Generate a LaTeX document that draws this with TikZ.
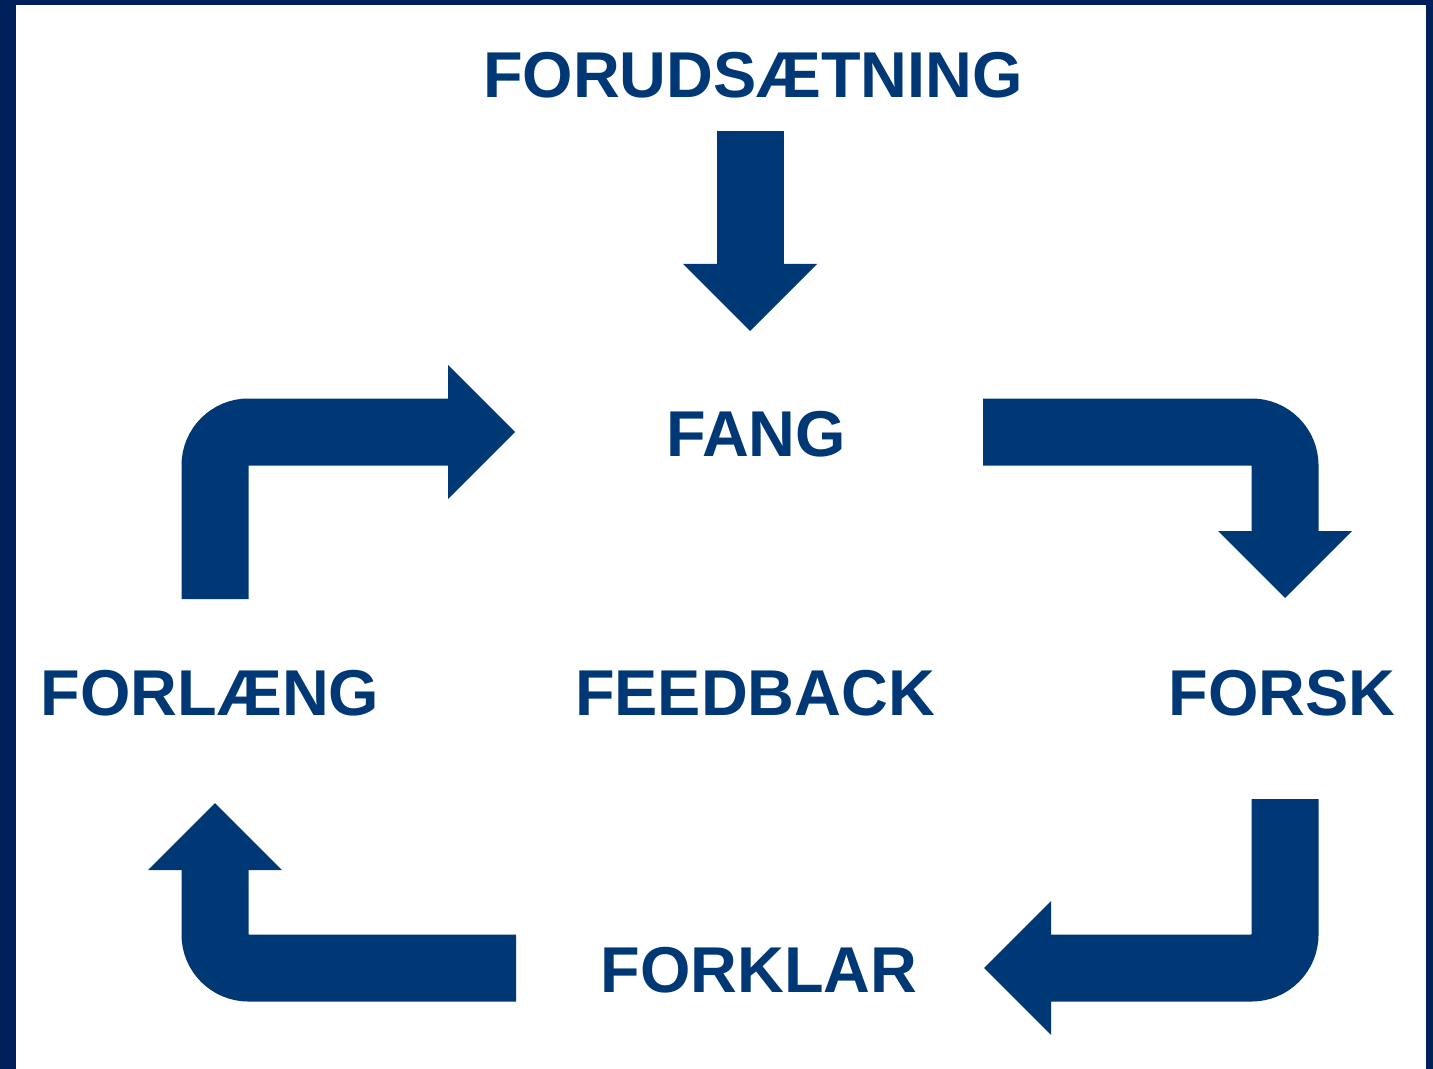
\documentclass[tikz,border=0pt]{standalone}
\usepackage{fontspec}
\setmainfont{Liberation Sans}
\usepackage{tikz}
\usetikzlibrary{arrows.meta}
\definecolor{navy}{HTML}{003876}
\definecolor{frame}{HTML}{00205B}
\tikzset{
  label/.style={font=\fontsize{32.4}{39}\selectfont\bfseries,text=navy,inner sep=0pt},
  blockarrow/.style={draw=navy,line width=33.5pt,rounded corners=16.75pt,
    -{Triangle[width=67pt,length=33.5pt,line width=0pt]}}
}

\begin{document}
\begin{tikzpicture}[x=0.5pt,y=-0.5pt]
	\useasboundingbox (0,0) rectangle (1433,1069);
	\fill[frame] (0,0) rectangle (1433,1069);
	\fill[white] (16,5) rectangle (1426,1069);
	\node[label] (forudsaetning) at (753,75) {FORUDSÆTNING};
	\node[label] (fang) at (756,434) {FANG};
	\node[label] (forlaeng) at (210,693) {FORLÆNG};
	\node[label] (feedback) at (755,693) {FEEDBACK};
	\node[label] (forsk) at (1282,693) {FORSK};
	\node[label] (forklar) at (759,970) {FORKLAR};
	\coordinate (topstart) at (750,131);
	\coordinate (topend) at (750,331);
	\coordinate (leftstart) at (215,599);
	\coordinate (leftbend) at (215,432);
	\coordinate (leftend) at (515,432);
	\coordinate (rightstart) at (983,432);
	\coordinate (rightbend) at (1285,432);
	\coordinate (rightend) at (1285,598);
	\coordinate (lowstart) at (1285,799);
	\coordinate (lowbend) at (1285,968);
	\coordinate (lowend) at (984,968);
	\coordinate (backstart) at (516,968);
	\coordinate (backbend) at (215,968);
	\coordinate (backend) at (215,803);
	\draw[blockarrow] (topstart)--(topend);
	\draw[blockarrow] (leftstart)--(leftbend)--(leftend);
	\draw[blockarrow] (rightstart)--(rightbend)--(rightend);
	\draw[blockarrow] (lowstart)--(lowbend)--(lowend);
	\draw[blockarrow] (backstart)--(backbend)--(backend);
\end{tikzpicture}
\end{document}
